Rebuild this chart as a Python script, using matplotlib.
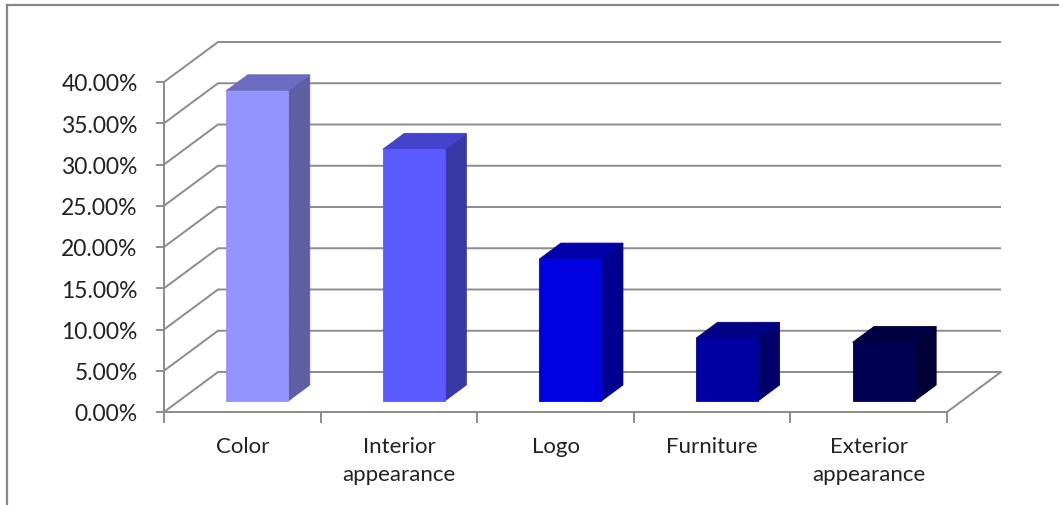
import numpy as np
import matplotlib.pyplot as plt
from matplotlib.patches import Polygon
from matplotlib.lines import Line2D

plt.rcParams['font.family'] = ['Lato', 'DejaVu Sans']

# data (percent)
categories = ["Color", "Interior\nappearance", "Logo", "Furniture", "Exterior\nappearance"]
values = [37.6, 30.5, 17.2, 7.6, 7.1]
y_ticks = [0, 5, 10, 15, 20, 25, 30, 35, 40]

front_colors = ["#9494ff", "#5a5aff", "#0000e0", "#0000a0", "#000050"]
side_colors = ["#5e5ea2", "#3939a6", "#00008e", "#000068", "#000036"]
top_colors = ["#6c6cc0", "#4343cc", "#0000a8", "#000086", "#000042"]

W, H = 1059, 506
fig = plt.figure(figsize=(W / 100, H / 100), dpi=100)

# front plane of the 3d box
x0, x1, yb, yt = 164, 947, 413, 83
ax = fig.add_axes([x0 / W, (H - yb) / H, (x1 - x0) / W, (yb - yt) / H])
n = len(categories)
ax.set_xlim(0, n)
ax.set_ylim(0, 40)

# depth offset (oblique projection) in data units
dx = 54 / ((x1 - x0) / n)
dy = 40 / ((yb - yt) / 40)

grid_col = "#8c8c8c"
lw = 1.4

for v in y_ticks:
    ax.plot([0, dx, n + dx], [v, v + dy, v + dy], color=grid_col, lw=lw,
            clip_on=False, zorder=1, solid_capstyle='butt')
# right edge of the floor
ax.plot([n, n + dx], [0, dy], color=grid_col, lw=lw, clip_on=False, zorder=1)

# bars
w = 0.396
d0, d1 = 0.275, 0.675
ddx, ddy = (d1 - d0) * dx, (d1 - d0) * dy
for i, v in enumerate(values):
    xl = i + 0.5 - w / 2 + d0 * dx
    y0 = d0 * dy
    front = [(xl, y0), (xl + w, y0), (xl + w, y0 + v), (xl, y0 + v)]
    side = [(xl + w, y0), (xl + w + ddx, y0 + ddy), (xl + w + ddx, y0 + v + ddy), (xl + w, y0 + v)]
    top = [(xl, y0 + v), (xl + w, y0 + v), (xl + w + ddx, y0 + v + ddy), (xl + ddx, y0 + v + ddy)]
    for pts, c in [(side, side_colors[i]), (top, top_colors[i]), (front, front_colors[i])]:
        ax.add_patch(Polygon(pts, closed=True, facecolor=c, edgecolor=c, lw=0.6,
                             clip_on=False, zorder=3))

for s in ["top", "right"]:
    ax.spines[s].set_visible(False)
for s in ["left", "bottom"]:
    ax.spines[s].set_color(grid_col)
    ax.spines[s].set_linewidth(lw)
    ax.spines[s].set_zorder(2)

ax.set_yticks(y_ticks)
ax.set_yticklabels([f"{t:.2f}%" for t in y_ticks])
ax.tick_params(axis='y', length=6, width=lw, color=grid_col, pad=13,
               labelsize=16.5, labelcolor="#222222")

ax.set_xticks(np.arange(n + 1))
ax.set_xticklabels([])
ax.tick_params(axis='x', which='major', length=8, width=lw, color=grid_col)
ax.set_xticks(np.arange(n) + 0.5, minor=True)
ax.set_xticklabels(categories, minor=True, linespacing=1.5)
ax.tick_params(axis='x', which='minor', length=0, pad=17, labelsize=16,
               labelcolor="#222222")
ax.patch.set_visible(False)

# chart frame
fig.add_artist(Line2D([7 / W, 7 / W], [0, 1 - 6 / H], color="#878787", lw=1.6,
                      transform=fig.transFigure))
fig.add_artist(Line2D([7 / W, 1], [1 - 6 / H, 1 - 6 / H], color="#878787", lw=1.6,
                      transform=fig.transFigure))

fig.savefig("out.png", dpi=100)
